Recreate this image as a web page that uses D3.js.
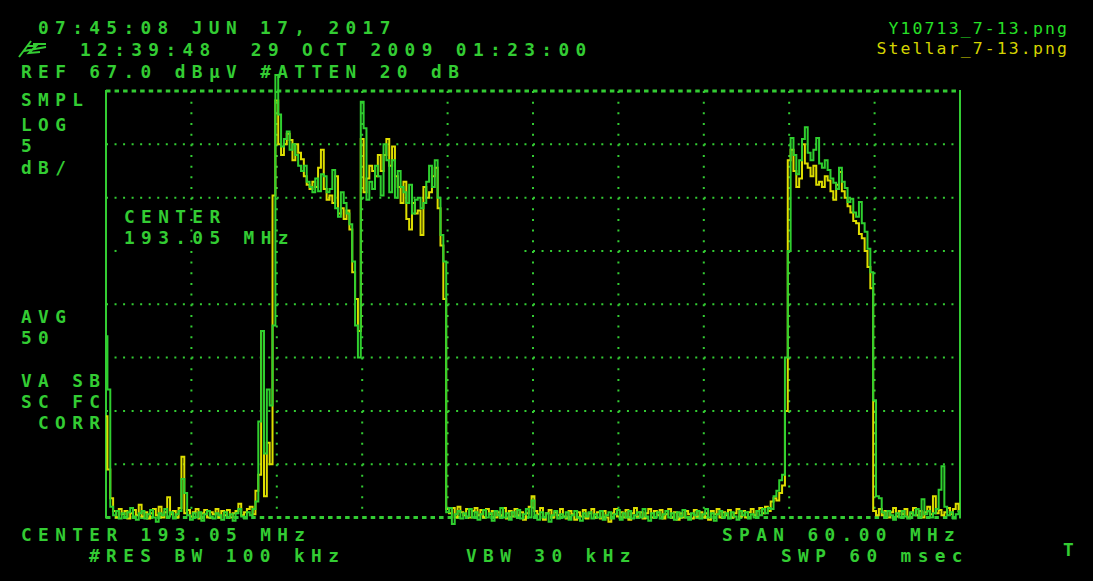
<!DOCTYPE html>
<html><head><meta charset="utf-8">
<script src="https://cdn.jsdelivr.net/npm/d3@7"></script>
<style>
html,body{margin:0;padding:0;background:#000;}
svg{display:block;}
text{white-space:pre;}
</style></head>
<body>
<svg id="c" width="1093" height="581"></svg>
<script>
// ---- data ----
const refLevel = 67.0, dbPerDiv = 5, vDivs = 8;
const centerMHz = 193.05, spanMHz = 60.00, hDivs = 10;
const nPoints = 301;
const legendLabels = ["Y10713_7-13.png", "Stellar_7-13.png"];

// Trace Y10713 (green), dBµV
const greenTrace = [
44.0,39.0,28.0,27.2,27.6,26.9,27.4,27.0,27.5,27.9,
27.1,26.8,27.4,27.6,26.9,27.3,27.7,27.0,26.6,27.4,
27.2,27.8,27.1,27.5,26.9,27.3,27.6,30.6,29.3,27.2,
26.8,27.4,27.0,27.5,26.7,27.3,27.6,27.1,26.9,27.4,
27.2,26.8,27.5,27.0,27.3,26.7,27.4,27.8,27.1,26.9,
27.5,27.2,27.8,28.5,36.0,44.5,33.0,39.0,37.5,45.0,
68.5,64.8,61.8,62.5,63.2,61.5,62.0,61.0,60.0,59.5,
60.0,58.5,58.0,57.5,58.8,57.6,59.2,59.0,57.5,57.8,
59.6,56.0,55.2,57.5,56.5,55.5,54.5,51.0,45.0,42.0,
66.0,63.5,56.8,58.5,57.8,60.0,59.0,57.2,62.0,60.5,
57.5,60.5,57.0,59.5,58.0,57.5,56.5,58.2,55.5,56.8,
57.0,56.0,56.5,58.5,60.0,58.0,60.5,57.0,53.5,51.0,
27.5,27.9,26.4,27.3,27.6,26.9,27.4,27.1,27.8,27.0,
27.5,26.8,27.3,27.7,27.0,27.4,26.7,27.6,27.2,27.9,
27.0,27.4,26.8,27.5,27.1,27.7,26.9,27.3,27.8,27.0,
28.6,27.2,26.8,27.5,27.0,27.4,26.6,27.2,27.6,26.9,
27.3,27.0,27.5,26.8,27.2,27.6,27.0,26.7,27.4,27.1,
27.5,26.9,27.3,27.0,27.6,26.8,27.2,27.5,26.9,27.3,
27.7,26.8,27.4,27.0,27.6,26.9,27.2,27.5,27.0,27.8,
27.1,26.7,27.4,27.0,27.5,26.9,27.3,27.6,27.0,27.4,
26.8,27.5,27.1,27.7,27.0,26.8,27.4,27.2,27.6,26.9,
27.3,27.8,27.0,27.4,26.7,27.3,27.6,27.0,27.4,26.9,
27.5,27.1,26.8,27.6,27.2,27.5,26.9,27.3,27.0,27.6,
27.2,27.8,27.4,27.9,27.8,29.0,29.5,30.5,31.0,42.0,
52.0,62.6,61.0,59.2,60.5,62.5,63.6,61.2,60.5,61.5,
62.6,60.2,59.8,60.5,59.6,58.8,58.4,57.8,59.8,58.5,
57.9,56.6,56.9,55.6,55.2,56.6,54.6,53.8,52.2,50.0,
38.0,29.0,28.8,27.5,27.0,27.6,27.2,26.8,27.4,27.0,
27.6,27.1,26.9,27.5,27.2,27.8,27.0,28.7,27.3,27.6,
27.0,27.4,27.8,29.6,31.8,28.0,27.2,27.5,26.9,27.3,
27.6];

// Trace Stellar (yellow), dBµV
const yellowTrace = [
36.5,31.5,28.8,27.6,27.0,27.8,27.3,27.6,26.9,27.4,
27.7,27.2,28.2,27.1,27.5,26.9,27.4,27.8,27.2,28.0,
27.0,27.5,28.9,27.3,27.6,27.0,27.9,32.7,27.4,27.7,
27.1,27.5,27.8,26.9,27.4,27.7,27.0,27.5,27.3,27.8,
27.0,27.6,27.2,27.7,27.0,27.4,27.6,28.3,27.2,27.5,
27.8,28.0,27.3,29.5,31.0,44.5,29.0,34.0,32.0,57.2,
66.1,62.0,61.0,62.0,63.0,62.4,60.5,62.0,61.2,60.6,
59.0,58.2,57.8,58.5,58.0,59.8,61.5,57.8,56.8,57.2,
56.5,59.0,55.5,56.0,55.0,55.8,54.0,50.0,47.5,44.5,
62.5,57.5,58.8,60.0,59.5,59.0,61.0,59.5,61.0,62.5,
60.0,61.8,59.0,58.0,56.5,58.5,55.0,54.0,56.5,55.5,
55.8,53.5,58.0,57.0,57.5,59.0,59.8,56.0,52.5,47.5,
27.8,27.4,27.9,27.0,28.0,27.5,27.2,27.8,27.0,27.6,
27.9,27.2,27.7,27.0,27.8,27.3,27.6,27.0,27.5,27.2,
27.9,26.9,27.6,27.1,27.8,27.2,27.5,26.8,27.4,28.0,
29.0,27.6,27.3,27.9,26.8,27.4,27.7,27.0,27.5,27.2,
27.8,27.1,26.9,27.6,27.3,26.8,27.5,27.1,27.7,26.9,
27.4,27.8,27.0,27.5,26.9,27.6,27.0,26.6,27.4,27.8,
27.1,27.5,27.0,27.7,26.8,27.4,27.9,27.1,27.5,26.9,
27.4,27.8,27.0,27.6,27.2,27.7,26.9,27.3,27.8,27.0,
27.5,26.8,27.4,27.0,27.6,27.3,26.9,27.7,27.1,27.5,
27.0,27.4,26.8,27.6,27.3,27.8,27.0,27.5,27.2,27.7,
27.0,27.4,27.8,27.1,27.6,27.0,27.5,27.8,27.2,27.6,
27.9,27.4,28.0,27.6,28.5,28.8,28.6,29.3,30.0,37.0,
60.5,61.5,59.5,58.0,58.8,62.0,60.2,59.8,59.0,60.0,
58.2,58.5,58.0,59.0,58.6,57.6,56.8,58.2,59.4,57.6,
57.0,56.2,55.6,54.8,54.6,53.6,53.2,52.0,50.5,48.5,
27.6,27.2,27.8,27.2,27.6,27.0,27.5,27.9,27.1,27.6,
27.3,27.8,27.0,27.4,27.9,27.2,27.6,27.0,27.5,28.0,
27.3,29.0,27.4,27.7,27.2,27.5,27.9,27.3,27.8,28.3,
27.6];

// Screen annotations
const annotations = [
  {t:"07:45:08 JUN 17, 2017", x:38, y:34},
  {t:"12:39:48  29 OCT 2009 01:23:00", x:80, y:56},
  {t:"REF 67.0 dBµV #ATTEN 20 dB", x:21, y:78},
  {t:"SMPL", x:21, y:106},
  {t:"LOG", x:21, y:131},
  {t:"5", x:21, y:152},
  {t:"dB/", x:21, y:174},
  {t:"CENTER", x:124, y:223},
  {t:"193.05 MHz", x:124, y:244},
  {t:"AVG", x:21, y:323},
  {t:"50", x:21, y:344},
  {t:"VA SB", x:21, y:387},
  {t:"SC FC", x:21, y:408},
  {t:"CORR", x:38, y:429},
  {t:"CENTER 193.05 MHz", x:21, y:541},
  {t:"SPAN 60.00 MHz", x:722, y:541},
  {t:"#RES BW 100 kHz", x:89, y:562},
  {t:"VBW 30 kHz", x:466, y:562},
  {t:"SWP 60 msec", x:781, y:562},
  {t:"T", x:1063, y:556}
];

// ---- drawing ----
const GREEN = "#33cc33", TRACE_G = "#2fcf2f", TRACE_Y = "#dede00", LEG_G = "#27e027";
const svg = d3.select("#c");
const W = 1093, H = 581;
svg.append("rect").attr("width", W).attr("height", H).attr("fill", "#000");

const fStart = centerMHz - spanMHz/2, fStop = centerMHz + spanMHz/2;
const bottomLevel = refLevel - dbPerDiv*vDivs;
const x = d3.scaleLinear().domain([fStart, fStop]).range([106, 960]);
const y = d3.scaleLinear().domain([bottomLevel, refLevel]).range([517.5, 91]);
const freqs = d3.range(nPoints).map(i => fStart + i*spanMHz/(nPoints-1));

const g = svg.append("g");
const xTicks = d3.range(1, hDivs).map(k => fStart + k*spanMHz/hDivs);
const yTicks = d3.range(1, vDivs).map(k => bottomLevel + k*dbPerDiv);
const vStep = (y(bottomLevel) - y(refLevel)) / vDivs / 5;
const hStep = (x(fStop) - x(fStart)) / hDivs / 10;
g.selectAll("line.v").data(xTicks).join("line")
  .attr("x1", d => x(d)).attr("x2", d => x(d))
  .attr("y1", y(refLevel)).attr("y2", y(bottomLevel))
  .attr("stroke", GREEN).attr("stroke-width", 2)
  .attr("stroke-dasharray", `2,${vStep-2}`);
// horizontal dotted lines; the one just under the CENTER annotation is blanked on its left part
const blankLevel = refLevel - 3*dbPerDiv;
g.selectAll("line.h").data(yTicks).join("line")
  .attr("x1", d => d === blankLevel ? x(fStart) + 49*hStep : x(fStart))
  .attr("x2", x(fStop))
  .attr("y1", d => y(d)).attr("y2", d => y(d))
  .attr("stroke", GREEN).attr("stroke-width", 2)
  .attr("stroke-dasharray", `2,${hStep-2}`);
g.append("rect").attr("x", x(fStart) + hStep).attr("y", y(blankLevel) - 1)
  .attr("width", 2).attr("height", 2).attr("fill", GREEN);
[refLevel, bottomLevel].forEach(v => {
  g.append("line").attr("x1", x(fStart)).attr("x2", x(fStop))
   .attr("y1", y(v)).attr("y2", y(v))
   .attr("stroke", GREEN).attr("stroke-width", 3)
   .attr("stroke-dasharray", `4.5,${hStep-4.5}`);
});
[fStart, fStop].forEach(f => {
  g.append("line").attr("x1", x(f)).attr("x2", x(f))
   .attr("y1", y(refLevel)-1).attr("y2", y(bottomLevel)+1)
   .attr("stroke", GREEN).attr("stroke-width", 2);
});

// traces
const line = d3.line().x((d,i) => x(freqs[i])).y(d => y(d)).curve(d3.curveStep);
svg.append("path").datum(yellowTrace).attr("d", line)
  .attr("fill", "none").attr("stroke", TRACE_Y).attr("stroke-width", 2);
svg.append("path").datum(greenTrace).attr("d", line)
  .attr("fill", "none").attr("stroke", TRACE_G).attr("stroke-width", 2);

// annotations
svg.selectAll("text.a").data(annotations).join("text")
  .attr("x", d => d.x).attr("y", d => d.y)
  .attr("fill", GREEN)
  .style("font-family", "'DejaVu Sans Mono', monospace")
  .style("font-size", "17.8px")
  .style("font-weight", "bold")
  .style("letter-spacing", "6.38px")
  .text(d => d.t);

// pen icon on 2nd line
svg.append("path")
  .attr("d", "M19,57 L31,41 M24,51 L46,47 M27,46 L36,46 L29,53 L40,52 M33,44 L46,44")
  .attr("fill", "none").attr("stroke", GREEN).attr("stroke-width", 2);

// legend (top right)
svg.selectAll("text.l").data(legendLabels).join("text")
  .attr("x", 1069).attr("y", (d,i) => 34 + i*19.5)
  .attr("text-anchor", "end")
  .attr("fill", (d,i) => i === 0 ? LEG_G : "#d4d400")
  .style("font-family", "'DejaVu Sans Mono', monospace")
  .style("font-size", "16.5px")
  .style("letter-spacing", "2.1px")
  .text(d => d);
</script>
</body></html>
